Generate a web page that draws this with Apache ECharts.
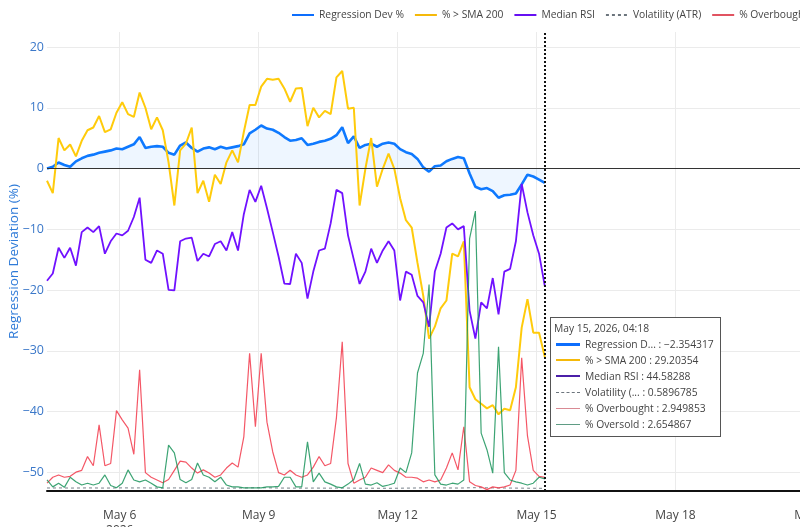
<!DOCTYPE html>
<html>
<head>
<meta charset="utf-8">
<script src="https://cdn.jsdelivr.net/npm/echarts@6/dist/echarts.min.js"></script>
<style>
  html, body { margin: 0; padding: 0; background: #fff; }
  #chart { width: 800px; height: 527px; }
</style>
</head>
<body>
<div id="chart"></div>
<script>
// sampling: every 3 hours, ending at the hovered point May 15 2026 04:18
const START = new Date(2026, 4, 4, 10, 18).getTime()
const STEP = 3 * 3600 * 1000

// Regression deviation (%), left axis
const regDev = [0.0, 0.3, 1.0, 0.6, 0.3, 1.2, 1.7, 2.1, 2.3, 2.6,
  2.8, 3.0, 3.3, 3.2, 3.6, 4.0, 5.2, 3.4, 3.6, 3.7,
  3.6, 2.6, 2.3, 3.8, 4.3, 3.4, 2.8, 3.3, 3.5, 3.2,
  3.6, 3.3, 3.5, 3.7, 4.0, 5.8, 6.4, 7.1, 6.6, 6.4,
  5.9, 5.2, 4.6, 4.7, 5.0, 3.9, 4.1, 4.4, 4.6, 4.9,
  5.5, 6.8, 4.2, 5.3, 3.4, 3.9, 4.1, 3.6, 4.1, 4.3,
  4.1, 3.2, 2.7, 2.4, 1.6, 0.2, -0.5, 0.4, 0.5, 1.2,
  1.6, 1.9, 1.7, -0.8, -3.0, -3.4, -3.2, -3.7, -4.8, -4.4,
  -4.3, -4.1, -2.6, -1.0, -1.3, -1.8, -2.354317]

// % above SMA 200 (hidden 0-100 axis)
const sma200 = [67.6, 64.9, 76.9, 74.2, 75.5, 72.9, 76.3, 78.6, 79.2, 81.7,
  78.2, 78.8, 82.4, 84.7, 82.1, 81.5, 86.8, 83.5, 78.8, 81.4,
  78.6, 71.6, 62.2, 74.2, 75.7, 79.2, 64.9, 67.6, 63.0, 68.9,
  66.9, 71.6, 74.2, 71.6, 78.2, 84.1, 84.1, 88.1, 89.8, 89.6,
  89.8, 87.7, 84.8, 87.7, 87.8, 79.5, 83.5, 81.4, 82.8, 82.1,
  90.1, 91.5, 83.3, 83.5, 62.2, 70.2, 76.9, 66.3, 70.2, 73.5,
  70.2, 63.8, 59.0, 57.4, 49.7, 42.5, 33.2, 35.8, 39.8, 41.5,
  51.7, 51.1, 54.4, 22.6, 20.0, 19.0, 18.0, 18.7, 16.7, 17.9,
  17.6, 22.6, 35.6, 41.8, 34.5, 34.5, 29.20354]

// Median RSI
const medianRsi = [45.8, 47.4, 53.0, 50.8, 53.0, 49.1, 56.4, 57.4, 56.4, 57.7,
  51.7, 54.4, 56.1, 55.7, 56.7, 59.7, 63.9, 50.4, 49.7, 52.4,
  51.7, 43.8, 43.7, 54.4, 55.0, 55.2, 50.1, 51.7, 51.1, 53.8,
  54.4, 52.4, 56.4, 52.4, 60.3, 65.6, 63.0, 66.5, 61.6, 56.4,
  51.1, 45.2, 45.1, 51.7, 49.7, 41.9, 47.8, 52.4, 52.8, 58.3,
  65.6, 64.9, 55.7, 50.4, 45.1, 47.8, 52.8, 49.7, 52.4, 54.4,
  52.4, 41.5, 47.8, 47.1, 42.5, 41.1, 35.8, 47.8, 51.7, 57.4,
  58.3, 57.0, 57.7, 39.3, 33.2, 41.1, 39.8, 46.4, 38.5, 47.8,
  48.4, 54.4, 66.9, 60.7, 55.7, 51.7, 44.58288]

// Volatility (ATR)
const volatility = [0.66, 0.65, 0.67, 0.66, 0.64, 0.65, 0.66, 0.67, 0.66, 0.65,
  0.64, 0.65, 0.66, 0.68, 0.67, 0.66, 0.68, 0.67, 0.65, 0.64,
  0.63, 0.65, 0.67, 0.66, 0.65, 0.64, 0.65, 0.66, 0.65, 0.64,
  0.63, 0.62, 0.63, 0.64, 0.65, 0.68, 0.70, 0.71, 0.69, 0.67,
  0.65, 0.64, 0.63, 0.63, 0.62, 0.63, 0.64, 0.63, 0.62, 0.62,
  0.63, 0.65, 0.64, 0.62, 0.61, 0.60, 0.61, 0.60, 0.60, 0.59,
  0.60, 0.61, 0.63, 0.64, 0.66, 0.68, 0.70, 0.69, 0.67, 0.66,
  0.65, 0.64, 0.66, 0.70, 0.72, 0.71, 0.69, 0.68, 0.66, 0.65,
  0.64, 0.63, 0.62, 0.61, 0.60, 0.59, 0.5896785]

// % Overbought
const overbought = [1.7, 3.0, 3.5, 3.0, 3.2, 4.1, 4.5, 7.5, 5.5, 14.4,
  5.5, 6.0, 17.5, 15.5, 13.7, 8.0, 26.4, 4.0, 3.0, 2.4,
  1.8, 2.5, 4.5, 6.5, 6.3, 5.0, 3.9, 4.6, 3.9, 3.0,
  3.5, 5.0, 6.1, 5.2, 11.8, 30.0, 14.0, 30.0, 15.0, 8.5,
  4.0, 3.5, 4.5, 3.5, 3.0, 3.5, 5.2, 7.5, 5.5, 6.0,
  16.0, 32.5, 6.0, 1.7, 2.4, 3.0, 5.0, 4.5, 4.0, 5.7,
  4.5, 3.9, 3.0, 3.0, 2.8, 2.0, 2.4, 2.0, 2.4, 5.0,
  8.3, 4.6, 14.0, 2.0, 1.2, 0.9, 0.3, 0.9, 0.7, 0.9,
  1.3, 4.5, 29.0, 12.0, 4.5, 3.2, 2.949853]

// % Oversold
const oversold = [2.4, 0.9, 1.7, 0.8, 3.0, 2.0, 1.3, 1.7, 1.3, 1.7,
  3.5, 1.2, 0.7, 1.7, 4.6, 2.4, 2.0, 2.4, 1.7, 0.9,
  0.7, 10.0, 8.3, 2.5, 1.8, 2.5, 6.1, 3.5, 3.0, 2.0,
  3.0, 1.3, 0.9, 0.9, 0.7, 0.7, 0.7, 0.7, 0.9, 0.9,
  1.0, 3.0, 3.0, 0.9, 0.9, 10.7, 2.0, 3.9, 2.0, 1.5,
  0.9, 0.7, 1.5, 2.5, 6.0, 1.5, 1.3, 1.8, 1.0, 1.3,
  1.7, 5.0, 4.0, 8.3, 25.7, 30.0, 45.0, 3.5, 1.5, 1.3,
  1.7, 1.5, 2.4, 55.0, 61.0, 12.6, 9.0, 3.9, 31.4, 4.0,
  2.4, 2.0, 1.7, 1.3, 1.7, 3.0, 2.654867]

const xTicks = [
  new Date(2026, 4, 6).getTime(), new Date(2026, 4, 9).getTime(),
  new Date(2026, 4, 12).getTime(), new Date(2026, 4, 15).getTime(),
  new Date(2026, 4, 18).getTime(), new Date(2026, 4, 21).getTime()
]
const yTicks = [-50, -40, -30, -20, -10, 0, 10, 20]
const MONTHS = ['Jan', 'Feb', 'Mar', 'Apr', 'May', 'Jun', 'Jul', 'Aug', 'Sep', 'Oct', 'Nov', 'Dec']

const FONT = '"Open Sans", "Noto Sans", Arial, sans-serif'

const times = regDev.map((v, k) => START + k * STEP)
const pair = arr => arr.map((v, k) => [times[k], v])

// swatch style for the hover box, per series
const swatch = {
  'Regression Dev %': 'border-top:3px solid #0d6efd',
  '% > SMA 200': 'border-top:2px solid #f5b90a',
  'Median RSI': 'border-top:2px solid #4b1fa8',
  'Volatility (ATR)': 'border-top:1px dashed #6c757d',
  '% Overbought': 'border-top:1px solid #d98a94',
  '% Oversold': 'border-top:1px solid #5f9c84'
}

function fmtNum(v) {
  let s = String(Number(v.toPrecision(7)))
  return v < 0 ? '\u2212' + s.slice(1) : s
}
function shortName(n) {
  return n.length > 15 ? n.slice(0, 12) + '...' : n
}

const chart = echarts.init(document.getElementById('chart'), null, { renderer: 'canvas' })

const option = {
  animation: false,
  backgroundColor: '#fff',
  textStyle: { fontFamily: FONT },
  legend: {
    left: 286,
    top: 5,
    width: 1200,
    itemWidth: 22,
    itemHeight: 10,
    itemGap: 10,
    itemStyle: { opacity: 0 },
    textStyle: { fontSize: 10.3, color: '#444', fontFamily: FONT },
    data: ['Regression Dev %', '% > SMA 200', 'Median RSI', 'Volatility (ATR)', '% Overbought', '% Oversold']
  },
  grid: { left: 47, top: 32, bottom: 36, right: -53, outerBoundsMode: 'none' },
  tooltip: {
    trigger: 'axis',
    triggerOn: 'none',
    alwaysShowContent: true,
    transitionDuration: 0,
    position: [550, 317],
    padding: [2, 6, 4, 3],
    backgroundColor: '#fff',
    borderColor: '#555',
    borderWidth: 1,
    extraCssText: 'box-shadow:none;border-radius:0;',
    axisPointer: {
      type: 'line',
      animation: false,
      lineStyle: { color: '#111', width: 2, type: [2, 2] },
      label: { show: false }
    },
    formatter: params => {
      const d = new Date(params[0].value[0])
      const hh = String(d.getHours()).padStart(2, '0')
      const mm = String(d.getMinutes()).padStart(2, '0')
      let html = '<div style="font-family:' + FONT.replace(/"/g, "'") + ';font-size:10.3px;color:#444;line-height:16px">'
      html += '<div>' + MONTHS[d.getMonth()] + ' ' + d.getDate() + ', ' + d.getFullYear() + ', ' + hh + ':' + mm + '</div>'
      params.forEach(p => {
        html += '<div style="display:flex;align-items:center;height:16px">' +
          '<span style="display:inline-block;width:24px;margin:0 5px 0 2px;' + swatch[p.seriesName] + '"></span>' +
          '<span>' + shortName(p.seriesName) + ' : ' + fmtNum(p.value[1]) + '</span></div>'
      })
      return html + '</div>'
    }
  },
  xAxis: {
    type: 'value',
    min: START,
    max: new Date(2026, 4, 21, 20, 0).getTime(),
    axisLine: { show: true, onZero: false, lineStyle: { color: '#111', width: 2 } },
    axisTick: { show: false, customValues: xTicks },
    splitLine: { show: true, lineStyle: { color: '#ebebeb', width: 1 } },
    axisLabel: {
      customValues: xTicks,
      margin: 17,
      fontSize: 12,
      color: '#444',
      fontFamily: FONT,
      lineHeight: 15,
      formatter: v => {
        const d = new Date(v)
        const s = MONTHS[d.getMonth()] + ' ' + d.getDate()
        return v === xTicks[0] ? s + '\n' + d.getFullYear() : s
      }
    }
  },
  yAxis: [
    {
      type: 'value',
      min: -53.1,
      max: 22.5,
      name: 'Regression Deviation (%)',
      nameLocation: 'middle',
      nameGap: 26,
      nameMoveOverlap: false,
      nameTextStyle: { color: '#2f7bd8', fontSize: 13.5, fontFamily: FONT },
      axisLine: { show: false },
      axisTick: { show: false, customValues: yTicks },
      splitLine: { show: true, lineStyle: { color: '#ebebeb', width: 1 } },
      axisLabel: {
        customValues: yTicks,
        margin: 3,
        fontSize: 12.5,
        color: '#3b78c9',
        fontFamily: FONT,
        formatter: v => (v < 0 ? '\u2212' + Math.abs(v) : String(v))
      }
    },
    { type: 'value', min: 0, max: 100, show: false, splitLine: { show: false } }
  ],
  series: [
    {
      name: 'Regression Dev %',
      type: 'line',
      yAxisIndex: 0,
      symbol: 'none',
      data: pair(regDev),
      lineStyle: { color: '#0d6efd', width: 2.6 },
      itemStyle: { color: '#0d6efd' },
      areaStyle: { color: 'rgba(13,110,253,0.1)', origin: 0 },
      markLine: {
        silent: true,
        symbol: 'none',
        label: { show: false },
        lineStyle: { color: '#333', width: 1, type: 'solid' },
        data: [{ yAxis: 0 }]
      },
      z: 2
    },
    {
      name: '% > SMA 200',
      type: 'line',
      yAxisIndex: 1,
      symbol: 'none',
      data: pair(sma200),
      lineStyle: { color: '#f5b90a', width: 2 },
      itemStyle: { color: '#f5b90a' },
      z: 3
    },
    {
      name: 'Median RSI',
      type: 'line',
      yAxisIndex: 1,
      symbol: 'none',
      data: pair(medianRsi),
      lineStyle: { color: '#6610f2', width: 1.8 },
      itemStyle: { color: '#6610f2' },
      z: 4
    },
    {
      name: 'Volatility (ATR)',
      type: 'line',
      yAxisIndex: 1,
      symbol: 'none',
      data: pair(volatility),
      lineStyle: { color: '#6c757d', width: 1, type: [3, 3] },
      itemStyle: { color: '#6c757d' },
      z: 5
    },
    {
      name: '% Overbought',
      type: 'line',
      yAxisIndex: 1,
      symbol: 'none',
      data: pair(overbought),
      lineStyle: { color: '#dc3545', width: 1.2, opacity: 0.85 },
      itemStyle: { color: '#dc3545' },
      z: 6
    },
    {
      name: '% Oversold',
      type: 'line',
      yAxisIndex: 1,
      symbol: 'none',
      data: pair(oversold),
      lineStyle: { color: '#198754', width: 1.2, opacity: 0.85 },
      itemStyle: { color: '#198754' },
      z: 7
    }
  ]
}

chart.setOption(option)
chart.dispatchAction({ type: 'showTip', seriesIndex: 0, dataIndex: regDev.length - 1 })
</script>
</body>
</html>
